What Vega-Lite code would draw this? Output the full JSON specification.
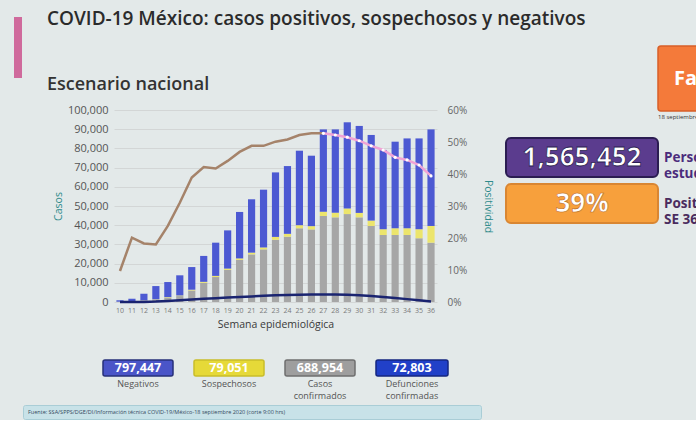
{
  "$schema": "https://vega.github.io/schema/vega-lite/v6.json",
  "background": "#e3e9e9",
  "padding": {"left": 14, "top": 9, "right": 0, "bottom": 0},
  "config": {"view": {"stroke": null}, "font": "Open Sans", "concat": {"spacing": 0}},
  "datasets": {
    "tipos": [
      {"tipo": "Casos confirmados", "orden": 1},
      {"tipo": "Sospechosos", "orden": 2},
      {"tipo": "Negativos", "orden": 3}
    ],
    "barras": [
      {"semana": 10, "tipo": "Casos confirmados", "casos": 100}, {"semana": 10, "tipo": "Sospechosos", "casos": 50}, {"semana": 10, "tipo": "Negativos", "casos": 750},
      {"semana": 11, "tipo": "Casos confirmados", "casos": 300}, {"semana": 11, "tipo": "Sospechosos", "casos": 100}, {"semana": 11, "tipo": "Negativos", "casos": 1300},
      {"semana": 12, "tipo": "Casos confirmados", "casos": 700}, {"semana": 12, "tipo": "Sospechosos", "casos": 150}, {"semana": 12, "tipo": "Negativos", "casos": 3450},
      {"semana": 13, "tipo": "Casos confirmados", "casos": 1200}, {"semana": 13, "tipo": "Sospechosos", "casos": 200}, {"semana": 13, "tipo": "Negativos", "casos": 6900},
      {"semana": 14, "tipo": "Casos confirmados", "casos": 2300}, {"semana": 14, "tipo": "Sospechosos", "casos": 250}, {"semana": 14, "tipo": "Negativos", "casos": 7850},
      {"semana": 15, "tipo": "Casos confirmados", "casos": 3100}, {"semana": 15, "tipo": "Sospechosos", "casos": 300}, {"semana": 15, "tipo": "Negativos", "casos": 10500},
      {"semana": 16, "tipo": "Casos confirmados", "casos": 6000}, {"semana": 16, "tipo": "Sospechosos", "casos": 400}, {"semana": 16, "tipo": "Negativos", "casos": 11800},
      {"semana": 17, "tipo": "Casos confirmados", "casos": 10000}, {"semana": 17, "tipo": "Sospechosos", "casos": 500}, {"semana": 17, "tipo": "Negativos", "casos": 13500},
      {"semana": 18, "tipo": "Casos confirmados", "casos": 13000}, {"semana": 18, "tipo": "Sospechosos", "casos": 600}, {"semana": 18, "tipo": "Negativos", "casos": 17300},
      {"semana": 19, "tipo": "Casos confirmados", "casos": 16700}, {"semana": 19, "tipo": "Sospechosos", "casos": 700}, {"semana": 19, "tipo": "Negativos", "casos": 19900},
      {"semana": 20, "tipo": "Casos confirmados", "casos": 21900}, {"semana": 20, "tipo": "Sospechosos", "casos": 800}, {"semana": 20, "tipo": "Negativos", "casos": 24200},
      {"semana": 21, "tipo": "Casos confirmados", "casos": 24800}, {"semana": 21, "tipo": "Sospechosos", "casos": 900}, {"semana": 21, "tipo": "Negativos", "casos": 27800},
      {"semana": 22, "tipo": "Casos confirmados", "casos": 27400}, {"semana": 22, "tipo": "Sospechosos", "casos": 1000}, {"semana": 22, "tipo": "Negativos", "casos": 30100},
      {"semana": 23, "tipo": "Casos confirmados", "casos": 32400}, {"semana": 23, "tipo": "Sospechosos", "casos": 1500}, {"semana": 23, "tipo": "Negativos", "casos": 33600},
      {"semana": 24, "tipo": "Casos confirmados", "casos": 34000}, {"semana": 24, "tipo": "Sospechosos", "casos": 1500}, {"semana": 24, "tipo": "Negativos", "casos": 35300},
      {"semana": 25, "tipo": "Casos confirmados", "casos": 38400}, {"semana": 25, "tipo": "Sospechosos", "casos": 1600}, {"semana": 25, "tipo": "Negativos", "casos": 38800},
      {"semana": 26, "tipo": "Casos confirmados", "casos": 37800}, {"semana": 26, "tipo": "Sospechosos", "casos": 1700}, {"semana": 26, "tipo": "Negativos", "casos": 36700},
      {"semana": 27, "tipo": "Casos confirmados", "casos": 44800}, {"semana": 27, "tipo": "Sospechosos", "casos": 2200}, {"semana": 27, "tipo": "Negativos", "casos": 42900},
      {"semana": 28, "tipo": "Casos confirmados", "casos": 44100}, {"semana": 28, "tipo": "Sospechosos", "casos": 2400}, {"semana": 28, "tipo": "Negativos", "casos": 43400},
      {"semana": 29, "tipo": "Casos confirmados", "casos": 45800}, {"semana": 29, "tipo": "Sospechosos", "casos": 2900}, {"semana": 29, "tipo": "Negativos", "casos": 44900},
      {"semana": 30, "tipo": "Casos confirmados", "casos": 44100}, {"semana": 30, "tipo": "Sospechosos", "casos": 2300}, {"semana": 30, "tipo": "Negativos", "casos": 45300},
      {"semana": 31, "tipo": "Casos confirmados", "casos": 39600}, {"semana": 31, "tipo": "Sospechosos", "casos": 2800}, {"semana": 31, "tipo": "Negativos", "casos": 44600},
      {"semana": 32, "tipo": "Casos confirmados", "casos": 34900}, {"semana": 32, "tipo": "Sospechosos", "casos": 3000}, {"semana": 32, "tipo": "Negativos", "casos": 41300},
      {"semana": 33, "tipo": "Casos confirmados", "casos": 34900}, {"semana": 33, "tipo": "Sospechosos", "casos": 3500}, {"semana": 33, "tipo": "Negativos", "casos": 45100},
      {"semana": 34, "tipo": "Casos confirmados", "casos": 34900}, {"semana": 34, "tipo": "Sospechosos", "casos": 3500}, {"semana": 34, "tipo": "Negativos", "casos": 46800},
      {"semana": 35, "tipo": "Casos confirmados", "casos": 33200}, {"semana": 35, "tipo": "Sospechosos", "casos": 4700}, {"semana": 35, "tipo": "Negativos", "casos": 47300},
      {"semana": 36, "tipo": "Casos confirmados", "casos": 30900}, {"semana": 36, "tipo": "Sospechosos", "casos": 8700}, {"semana": 36, "tipo": "Negativos", "casos": 50300}
    ],
    "defunciones": [
      {"semana": 10, "defunciones": 0}, {"semana": 11, "defunciones": 20}, {"semana": 12, "defunciones": 60},
      {"semana": 13, "defunciones": 200}, {"semana": 14, "defunciones": 500}, {"semana": 15, "defunciones": 900},
      {"semana": 16, "defunciones": 1300}, {"semana": 17, "defunciones": 1700}, {"semana": 18, "defunciones": 2000},
      {"semana": 19, "defunciones": 2300}, {"semana": 20, "defunciones": 2600}, {"semana": 21, "defunciones": 2900},
      {"semana": 22, "defunciones": 3200}, {"semana": 23, "defunciones": 3500}, {"semana": 24, "defunciones": 3700},
      {"semana": 25, "defunciones": 3800}, {"semana": 26, "defunciones": 3900}, {"semana": 27, "defunciones": 3900},
      {"semana": 28, "defunciones": 3900}, {"semana": 29, "defunciones": 3800}, {"semana": 30, "defunciones": 3500},
      {"semana": 31, "defunciones": 3100}, {"semana": 32, "defunciones": 2600}, {"semana": 33, "defunciones": 2100},
      {"semana": 34, "defunciones": 1500}, {"semana": 35, "defunciones": 900}, {"semana": 36, "defunciones": 300}
    ],
    "positividad": [
      {"semana": 10, "positividad": 0.097, "tramo": "observada"}, {"semana": 11, "positividad": 0.201, "tramo": "observada"},
      {"semana": 12, "positividad": 0.183, "tramo": "observada"}, {"semana": 13, "positividad": 0.18, "tramo": "observada"},
      {"semana": 14, "positividad": 0.238, "tramo": "observada"}, {"semana": 15, "positividad": 0.31, "tramo": "observada"},
      {"semana": 16, "positividad": 0.389, "tramo": "observada"}, {"semana": 17, "positividad": 0.422, "tramo": "observada"},
      {"semana": 18, "positividad": 0.417, "tramo": "observada"}, {"semana": 19, "positividad": 0.441, "tramo": "observada"},
      {"semana": 20, "positividad": 0.469, "tramo": "observada"}, {"semana": 21, "positividad": 0.488, "tramo": "observada"},
      {"semana": 22, "positividad": 0.488, "tramo": "observada"}, {"semana": 23, "positividad": 0.501, "tramo": "observada"},
      {"semana": 24, "positividad": 0.508, "tramo": "observada"}, {"semana": 25, "positividad": 0.522, "tramo": "observada"},
      {"semana": 26, "positividad": 0.527, "tramo": "observada"}, {"semana": 27, "positividad": 0.527, "tramo": "observada"},
      {"semana": 27, "positividad": 0.527, "tramo": "estimada"}, {"semana": 28, "positividad": 0.522, "tramo": "estimada"},
      {"semana": 29, "positividad": 0.515, "tramo": "estimada"}, {"semana": 30, "positividad": 0.504, "tramo": "estimada"},
      {"semana": 31, "positividad": 0.488, "tramo": "estimada"}, {"semana": 32, "positividad": 0.475, "tramo": "estimada"},
      {"semana": 33, "positividad": 0.452, "tramo": "estimada"}, {"semana": 34, "positividad": 0.444, "tramo": "estimada"},
      {"semana": 35, "positividad": 0.428, "tramo": "estimada"}, {"semana": 36, "positividad": 0.394, "tramo": "estimada"}
    ]
  },
  "spacing": 0,
  "vconcat": [
    {
      "spacing": 25,
      "hconcat": [
        {
          "spacing": 0,
          "vconcat": [
            {"width": 8, "height": 8, "data": {"values": []}, "mark": "text", "encoding": {}},
            {"width": 8, "height": 14, "view": {"fill": "#cf6a9c", "stroke": null}, "data": {"values": []}, "mark": "text", "encoding": {}}
          ]
        },
        {
          "width": 1, "height": 1, "data": {"values": []}, "mark": "text", "encoding": {},
          "title": {"text": "COVID-19 México: casos positivos, sospechosos y negativos", "orient": "bottom", "anchor": "start", "fontSize": 19, "fontWeight": 600, "color": "#2b2b2b", "offset": 0}
        }
      ]
    },
    {
      "spacing": 12,
      "hconcat": [
        {
          "spacing": 10,
          "vconcat": [
            {
              "spacing": 25,
              "hconcat": [
                {"width": 8, "height": 47, "view": {"fill": "#cf6a9c", "stroke": null}, "data": {"values": []}, "mark": "text", "encoding": {}},
                {
                  "width": 1, "height": 44, "data": {"values": []}, "mark": "text", "encoding": {},
                  "title": {"text": "Escenario nacional", "orient": "bottom", "anchor": "start", "fontSize": 18, "fontWeight": 600, "color": "#333333", "offset": 1}
                }
              ]
            },
            {
              "spacing": 0,
              "hconcat": [
                {"width": 39, "height": 1, "data": {"values": []}, "mark": "text", "encoding": {}},
                {
                  "width": 323, "height": 192,
                  "layer": [
                    {
                      "data": {"name": "barras"},
                      "transform": [{"lookup": "tipo", "from": {"data": {"name": "tipos"}, "key": "tipo", "fields": ["orden"]}}],
                      "mark": {"type": "bar"},
                      "encoding": {
                        "x": {"field": "semana", "type": "ordinal", "scale": {"paddingInner": 0.4, "paddingOuter": 0.2},
                              "axis": {"title": "Semana epidemiológica", "labelAngle": 0, "labelFontSize": 7, "labelColor": "#7a7a7a", "ticks": false, "domain": false, "labelPadding": 4, "titleFontSize": 10.5, "titleFontWeight": "normal", "titleColor": "#3a3a3a", "titlePadding": 6}},
                        "y": {"field": "casos", "type": "quantitative", "stack": "zero", "scale": {"domain": [0, 100000]},
                              "axis": {"orient": "left", "title": "Casos", "values": [0, 10000, 20000, 30000, 40000, 50000, 60000, 70000, 80000, 90000, 100000], "format": ",.0f", "labelFontSize": 11, "labelColor": "#555555", "ticks": false, "domain": false, "labelPadding": 6, "grid": true, "gridColor": "#d3d6d6", "titleFontSize": 10.5, "titleColor": "#2e8b8b", "titleFontWeight": "normal", "titlePadding": 4}},
                        "color": {"field": "tipo", "type": "nominal",
                                  "scale": {"domain": ["Casos confirmados", "Sospechosos", "Negativos"], "range": ["#a6a6a6", "#ece56c", "#4c59d2"]}, "legend": null},
                        "order": {"field": "orden", "type": "quantitative", "sort": "ascending"}
                      }
                    },
                    {
                      "data": {"name": "defunciones"},
                      "mark": {"type": "line", "color": "#1a2470", "strokeWidth": 2.5},
                      "encoding": {
                        "x": {"field": "semana", "type": "ordinal"},
                        "y": {"field": "defunciones", "type": "quantitative", "scale": {"domain": [0, 100000]}, "axis": null}
                      }
                    },
                    {
                      "data": {"name": "positividad"},
                      "transform": [{"filter": "datum.tramo == 'observada'"}],
                      "mark": {"type": "line", "color": "#a5836a", "strokeWidth": 2.5},
                      "encoding": {
                        "x": {"field": "semana", "type": "ordinal"},
                        "y": {"field": "positividad", "type": "quantitative", "scale": {"domain": [0, 0.6]},
                              "axis": {"orient": "right", "title": "Positividad", "values": [0, 0.1, 0.2, 0.3, 0.4, 0.5, 0.6], "format": ".0%", "grid": false, "ticks": false, "domain": false, "labelFontSize": 10, "labelColor": "#666666", "labelPadding": 10, "titleColor": "#2e8b8b", "titleFontSize": 10.5, "titleFontWeight": "normal", "titlePadding": 16}}
                      }
                    },
                    {
                      "data": {"name": "positividad"},
                      "transform": [{"filter": "datum.tramo == 'estimada'"}],
                      "mark": {"type": "line", "color": "#f0a3d6", "strokeWidth": 2.5},
                      "encoding": {
                        "x": {"field": "semana", "type": "ordinal"},
                        "y": {"field": "positividad", "type": "quantitative", "scale": {"domain": [0, 0.6]}, "axis": null}
                      }
                    },
                    {
                      "data": {"name": "positividad"},
                      "transform": [{"filter": "datum.tramo == 'estimada'"}],
                      "mark": {"type": "point", "filled": true, "color": "#ffffff", "size": 10, "opacity": 1},
                      "encoding": {
                        "x": {"field": "semana", "type": "ordinal"},
                        "y": {"field": "positividad", "type": "quantitative", "scale": {"domain": [0, 0.6]}, "axis": null}
                      }
                    }
                  ],
                  "resolve": {"scale": {"y": "independent"}, "axis": {"y": "independent"}}
                }
              ]
            },
            {
              "spacing": 2,
              "vconcat": [
                {
                  "spacing": 0,
                  "vconcat": [
                    {"width": 1, "height": 19, "data": {"values": []}, "mark": "text", "encoding": {}},
                    {
                      "spacing": 19,
                      "hconcat": [
                        {"width": 69, "height": 1, "data": {"values": []}, "mark": "text", "encoding": {}},
                        {
                          "width": 70, "height": 16, "view": {"fill": "#4a55c8", "stroke": "#27307a", "strokeWidth": 1.5, "cornerRadius": 2},
                          "data": {"values": [{"t": "797,447"}]}, "mark": {"type": "text", "color": "white", "fontSize": 12.5, "fontWeight": "bold"},
                          "encoding": {"text": {"field": "t"}},
                          "title": {"text": "Negativos", "orient": "bottom", "fontSize": 9, "fontWeight": "normal", "color": "#555555", "offset": 4, "anchor": "middle"}
                        },
                        {
                          "width": 70, "height": 16, "view": {"fill": "#e6d938", "stroke": "#c9bd2a", "strokeWidth": 1.5, "cornerRadius": 2},
                          "data": {"values": [{"t": "79,051"}]}, "mark": {"type": "text", "color": "white", "fontSize": 12.5, "fontWeight": "bold"},
                          "encoding": {"text": {"field": "t"}},
                          "title": {"text": "Sospechosos", "orient": "bottom", "fontSize": 9, "fontWeight": "normal", "color": "#555555", "offset": 4, "anchor": "middle"}
                        },
                        {
                          "width": 70, "height": 16, "view": {"fill": "#9e9e9e", "stroke": "#6f6f6f", "strokeWidth": 1.5, "cornerRadius": 2},
                          "data": {"values": [{"t": "688,954"}]}, "mark": {"type": "text", "color": "white", "fontSize": 12.5, "fontWeight": "bold"},
                          "encoding": {"text": {"field": "t"}},
                          "title": {"text": ["Casos", "confirmados"], "orient": "bottom", "fontSize": 9, "lineHeight": 12, "fontWeight": "normal", "color": "#555555", "offset": 4, "anchor": "middle"}
                        },
                        {
                          "width": 72, "height": 16, "view": {"fill": "#2140c8", "stroke": "#142680", "strokeWidth": 1.5, "cornerRadius": 2},
                          "data": {"values": [{"t": "72,803"}]}, "mark": {"type": "text", "color": "white", "fontSize": 12.5, "fontWeight": "bold"},
                          "encoding": {"text": {"field": "t"}},
                          "title": {"text": ["Defunciones", "confirmadas"], "orient": "bottom", "fontSize": 9, "lineHeight": 12, "fontWeight": "normal", "color": "#555555", "offset": 4, "anchor": "middle"}
                        }
                      ]
                    }
                  ]
                },
                {
                  "spacing": 0,
                  "hconcat": [
                    {"width": 8, "height": 1, "data": {"values": []}, "mark": "text", "encoding": {}},
                    {
                      "width": 458, "height": 14, "view": {"fill": "#c8e2e8", "stroke": "#a9cdd6", "cornerRadius": 2},
                      "data": {"values": [{"t": "Fuente: SSA/SPPS/DGE/DI/Información técnica COVID-19/México-18 septiembre 2020 (corte 9:00 hrs)"}]},
                      "mark": {"type": "text", "fontSize": 5.5, "color": "#34495e", "align": "left", "dx": -224},
                      "encoding": {"text": {"field": "t"}}
                    }
                  ]
                }
              ]
            }
          ]
        },
        {
          "spacing": 0,
          "vconcat": [
            {"width": 1, "height": 14, "data": {"values": []}, "mark": "text", "encoding": {}},
            {
              "spacing": 0,
              "hconcat": [
                {"width": 151, "height": 1, "data": {"values": []}, "mark": "text", "encoding": {}},
                {
                  "width": 100, "height": 65, "view": {"fill": "#f47a3a", "stroke": "#d85f28", "strokeWidth": 1.5, "cornerRadius": 3},
                  "data": {"values": [{"t": "Fa"}]}, "mark": {"type": "text", "color": "white", "fontSize": 20, "fontWeight": "bold", "align": "left", "dx": -34},
                  "encoding": {"text": {"field": "t"}},
                  "title": {"text": "18 septiembre 2020", "orient": "bottom", "anchor": "start", "fontSize": 6, "fontWeight": "normal", "color": "#333333", "offset": 3}
                }
              ]
            },
            {"width": 1, "height": 16, "data": {"values": []}, "mark": "text", "encoding": {}},
            {
              "spacing": 0,
              "hconcat": [
                {
                  "width": 152, "height": 39, "view": {"fill": "#5b3c8e", "stroke": "#2b1d52", "strokeWidth": 2, "cornerRadius": 5},
                  "data": {"values": [{"t": "1,565,452"}]}, "mark": {"type": "text", "color": "white", "fontSize": 26, "fontWeight": "bold", "stroke": "#2b1d52", "strokeWidth": 0.8},
                  "encoding": {"text": {"field": "t"}}
                },
                {
                  "width": 10, "height": 39, "data": {"values": [{"t": ["Personas", "estudiadas"]}]},
                  "mark": {"type": "text", "align": "left", "fontSize": 13.5, "fontWeight": "bold", "color": "#4b2c7c", "lineHeight": 16},
                  "encoding": {"text": {"field": "t"}}
                }
              ]
            },
            {"width": 1, "height": 3, "data": {"values": []}, "mark": "text", "encoding": {}},
            {
              "spacing": 0,
              "hconcat": [
                {
                  "width": 152, "height": 39, "view": {"fill": "#f7a03c", "stroke": "#d98632", "strokeWidth": 2, "cornerRadius": 5},
                  "data": {"values": [{"t": "39%"}]}, "mark": {"type": "text", "color": "white", "fontSize": 26, "fontWeight": "bold", "stroke": "#b86a20", "strokeWidth": 0.6},
                  "encoding": {"text": {"field": "t"}}
                },
                {
                  "width": 10, "height": 39, "data": {"values": [{"t": ["Positividad", "SE 36"]}]},
                  "mark": {"type": "text", "align": "left", "fontSize": 13.5, "fontWeight": "bold", "color": "#4a2c5e", "lineHeight": 16},
                  "encoding": {"text": {"field": "t"}}
                }
              ]
            }
          ]
        }
      ]
    }
  ]
}
